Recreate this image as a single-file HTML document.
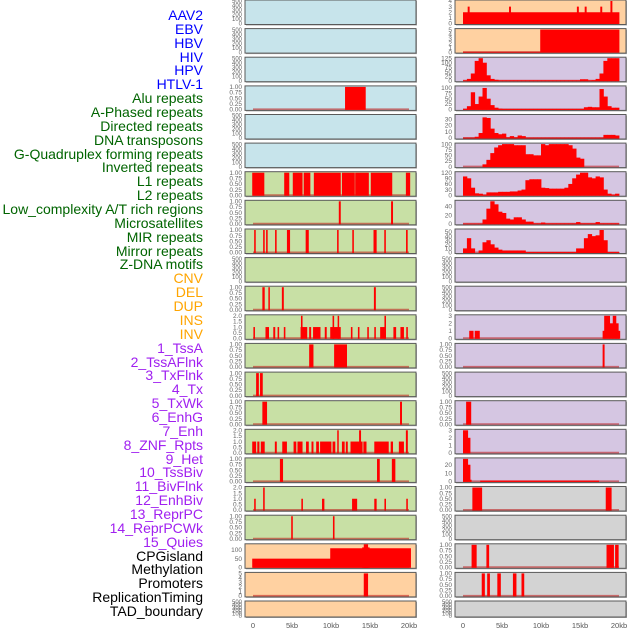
<!DOCTYPE html>
<html><head><meta charset="utf-8">
<style>
html,body{margin:0;padding:0;background:#fff;}
#wrap{position:relative;width:630px;height:630px;overflow:hidden;font-family:"Liberation Sans",sans-serif;}
.lbl{position:absolute;right:427px;font-size:14px;line-height:14px;white-space:nowrap;}
svg{position:absolute;left:0;top:0;}
</style></head>
<body>
<div id="wrap">
<div id="labels"></div>
<svg id="chart" width="630" height="630"></svg>
</div>
<script>
// ---------- label data ----------
const trackNames = ["AAV2","EBV","HBV","HIV","HPV","HTLV-1","Alu repeats","A-Phased repeats","Directed repeats","DNA transposons","G-Quadruplex forming repeats","Inverted repeats","L1 repeats","L2 repeats","Low_complexity A/T rich regions","Microsatellites","MIR repeats","Mirror repeats","Z-DNA motifs","CNV","DEL","DUP","INS","INV","1_TssA","2_TssAFlnk","3_TxFlnk","4_Tx","5_TxWk","6_EnhG","7_Enh","8_ZNF_Rpts","9_Het","10_TssBiv","11_BivFlnk","12_EnhBiv","13_ReprPC","14_ReprPCWk","15_Quies","CPGisland","Methylation","Promoters","ReplicationTiming","TAD_boundary"];
const trackGroups = ["v","v","v","v","v","v","r","r","r","r","r","r","r","r","r","r","r","r","r","s","s","s","s","s","c","c","c","c","c","c","c","c","c","c","c","c","c","c","c","o","o","o","o","o"];
const xTickLabels = ["0","5kb","10kb","15kb","20kb"];
const xTickValues = [0,5,10,15,20];

// ---------- series data (kb / values) ----------
const aav2Starts = [0,0.6,5.9,14.6,15.6,17.6,18.9];
const aav2Ends   = [20,0.8,6.1,14.8,15.8,17.8,19.1];
const aav2Values = [2,3,3,3,3,3,4];
const ebvStarts = [0,9.9]; const ebvEnds = [9.9,20]; const ebvValues = [0.05,5];
const hivBins = [2,10,40,110,125,100,30,10,5,2,2,2,2,2,2,2,2,2,2,2,2,2,2,2,2,2,2,2,2,2,8,8,2,3,10,40,110,125,125,125];
const aluBins = [2,15,80,25,60,100,50,20,8,3,2,2,2,2,2,2,2,2,2,2,2,2,2,2,2,2,2,2,2,2,2,10,12,10,10,95,60,15,8,8];
const directedBins = [0.5,0.5,0.5,2,8,33,32,15,8,6,7,1,3,1,4,3,0.5,0.5,0.5,0.5,0.5,0.5,0.5,0.5,0.5,0.5,0.5,0.5,0.5,0.5,0.5,0.5,0.5,0.5,0.5,0.5,5,5,5,4];
const gquadBins = [0,0,0,0,0,10,30,60,85,95,100,100,100,95,95,95,55,55,50,50,100,95,100,100,100,100,100,95,80,40,35,0,0,0,0,0,0,0,0,0];
const invertedBins = [100,90,40,10,8,3,15,15,15,18,18,18,20,20,25,30,80,85,85,85,40,38,35,35,35,35,40,60,90,110,120,120,95,90,100,95,30,8,3,8];
const l1ProfileBins = [0.5,0.5,0.5,0.5,0.5,10,35,52,45,28,25,12,10,15,15,10,5,5,1,1,3,1,1,1,1,1,1,1,1,4,1,1,1,1,4,1,1,1,1,1];
const l2ProfileBins = [10,35,10,0,5,25,30,20,12,7,5,5,5,5,5,5,1,1,1,1,1,1,1,1,1,1,1,1,1,10,10,35,45,40,42,55,30,1,1,1];
const insStarts = [0.8,1.5,17.9,18.1,18.8,19.2,19.6,19.9];
const insEnds   = [1.3,2.1,18.1,18.8,19.2,19.6,19.9,20.1];
const insValues = [1,1,1,3,2,3,2,1];
const invStarts = [17.9]; const invEnds = [18.1]; const invValues = [1];
const txStarts = [0.4]; const txEnds = [1.0]; const txValues = [1];
const txWkStarts = [0,0.6]; const txWkEnds = [0.6,0.9]; const txWkValues = [3,2];
const enhGStarts = [0,0.6,0.9,2.2]; const enhGEnds = [0.6,0.9,1.05,17.4]; const enhGValues = [27,20,2,1];
const enhStarts = [1.2,18.3]; const enhEnds = [2.4,19.0]; const enhValues = [1,1];
const quiesRStarts = [1.1,3.0,18.4,19.5]; const quiesREnds = [1.7,3.3,19.3,19.9]; const quiesRValues = [1,1,1,1];
const cpgRStarts = [2.4,3.1,4.4,6.4,7.5]; const cpgREnds = [2.75,3.4,4.8,6.8,7.8]; const cpgRValues = [1,1,1,1,1];

const aluLStarts = [11.8]; const aluLEnds = [14.4]; const aluLValues = [1];
const l1Starts = [-0.1,4.0,5.1,6.5,7.8,11.4,13.1,15.1,19.6];
const l1Ends   = [1.4,4.6,6.3,7.3,11.2,13.0,14.8,17.8,20.1];
const l1Values = [1,1,1,1,1,1,1,1,1];
const l2Starts = [11.0,17.7]; const l2Ends = [11.2,17.9]; const l2Values = [1,1];
const lowCStarts = [0.15,1.3,1.68,2.83,4.35,6.75,10.78,12.73,15.45,16.83,19.62];
const lowCEnds   = [0.3,1.45,1.83,2.98,4.7,7.1,10.93,12.88,15.8,16.98,19.78];
const lowCValues = [1,1,1,1,1,1,1,1,1,1,1];
const mirStarts = [1.2,1.97,3.7,15.5]; const mirEnds = [1.45,2.1,3.9,15.7]; const mirValues = [1,1,1,1];
const mirrorStarts = [0.05,1.6,2.6,3.15,3.95,6.1,6.15,7.2,7.7,9.2,9.9,10.2,10.85,12.55,13.45,14.65,15.55,16.3,16.85,18.0,18.9,19.65];
const mirrorEnds   = [0.2,2.0,2.8,3.3,4.1,6.9,6.3,7.4,8.6,9.4,11.2,10.35,10.98,12.7,13.6,14.8,15.7,16.9,17.0,18.3,19.3,19.8];
const mirrorValues = [1,1,1,1,1,1,2,1,1,1,1,2,2,1,1,1,1,1,2,1,1,1];
const cnvStarts = [7.2,10.4]; const cnvEnds = [7.7,12.0]; const cnvValues = [1,1];
const delStarts = [0.4,0.9]; const delEnds = [0.7,1.2]; const delValues = [1,1];
const dupStarts = [1.2,18.85]; const dupEnds = [1.75,19.05]; const dupValues = [1,1];
const ins2Starts = [-0.1,0.55,1.0,2.8,3.75,5.2,5.7,6.8,7.5,8.1,8.6,10.2,10.8,11.4,11.9,12.5,13.6,14.15,15.55,17.65,18.7,19.6];
const ins2Ends   = [0.35,0.77,1.45,3.0,4.3,5.5,6.3,7.1,7.7,8.4,10.0,10.5,10.92,11.7,12.1,14.0,13.8,14.5,17.35,17.9,19.3,19.8];
const ins2Values = [1,1,1,1,1,1,1,1,1,1,1,1,2,1,1,1,2,1,1,1,1,2];
const inv2Starts = [3.45,15.9,17.8]; const inv2Ends = [3.8,16.2,18.2]; const inv2Values = [1,1,1];
const tssaStarts = [0.15,1.3,6.2,8.85,12.7,15.55,16.85,19.65];
const tssaEnds   = [0.3,1.45,6.35,9.1,13.3,15.8,17.0,19.8];
const tssaValues = [1,2,1,1,1,1,1,1];
const tssaFStarts = [4.9,10.25]; const tssaFEnds = [5.05,10.4]; const tssaFValues = [1,1];
const methStarts = [-0.1,9.9,14.0,14.2]; const methEnds = [9.9,20.2,14.9,14.7]; const methValues = [50,110,115,135];
const promStarts = [14.2]; const promEnds = [14.7]; const promValues = [5];

// ---------- panel configuration ----------
const C = {blue:"#c7e4eb",green:"#c8e0a5",peach:"#ffd1a1",lav:"#d5c6e2",gray:"#d3d3d3"};
const T500 = ["0","100","200","300","400","500"];
const T1 = ["0.00","0.25","0.50","0.75","1.00"];
const T2 = ["0.0","0.5","1.0","1.5","2.0"];
function seg(s,e,v){return {s:s,e:e,v:v};}
function bins(b){return {s:b.map((_,i)=>i*0.5),e:b.map((_,i)=>i*0.5+0.5),v:b};}
const leftPanels = [
 [C.blue,null,500,T500],[C.blue,null,500,T500],[C.blue,null,500,T500],
 [C.blue,seg(aluLStarts,aluLEnds,aluLValues),1,T1],[C.blue,null,500,T500],[C.blue,null,500,T500],
 [C.green,seg(l1Starts,l1Ends,l1Values),1,T1],[C.green,seg(l2Starts,l2Ends,l2Values),1,T1],
 [C.green,seg(lowCStarts,lowCEnds,lowCValues),1,T1],[C.green,null,500,T500],
 [C.green,seg(mirStarts,mirEnds,mirValues),1,T1],[C.green,seg(mirrorStarts,mirrorEnds,mirrorValues),2,T2],
 [C.green,seg(cnvStarts,cnvEnds,cnvValues),1,T1],[C.green,seg(delStarts,delEnds,delValues),1,T1],
 [C.green,seg(dupStarts,dupEnds,dupValues),1,T1],[C.green,seg(ins2Starts,ins2Ends,ins2Values),2,T2],
 [C.green,seg(inv2Starts,inv2Ends,inv2Values),1,T1],[C.green,seg(tssaStarts,tssaEnds,tssaValues),2,T2],
 [C.green,seg(tssaFStarts,tssaFEnds,tssaFValues),1,T1],
 [C.peach,seg(methStarts,methEnds,methValues),130,["0","50","100"]],
 [C.peach,seg(promStarts,promEnds,promValues),5,["0","1","2","3","4","5"]],
 [C.peach,null,500,T500]
];
const rightPanels = [
 [C.peach,seg(aav2Starts,aav2Ends,aav2Values),4,["0","1","2","3","4"]],
 [C.peach,seg(ebvStarts,ebvEnds,ebvValues),5,["0","1","2","3","4","5"]],
 [C.lav,bins(hivBins),125,["0","25","50","75","100","125"]],
 [C.lav,bins(aluBins),105,["0","25","50","75","100"]],
 [C.lav,bins(directedBins),36,["0","10","20","30"]],
 [C.lav,bins(gquadBins),100,["0","25","50","75","100"]],
 [C.lav,bins(invertedBins),120,["0","30","60","90","120"]],
 [C.lav,bins(l1ProfileBins),52,["0","20","40"]],
 [C.lav,bins(l2ProfileBins),55,["0","10","20","30","40","50"]],
 [C.lav,null,500,T500],[C.lav,null,500,T500],
 [C.lav,seg(insStarts,insEnds,insValues),3,["0","1","2","3"]],
 [C.lav,seg(invStarts,invEnds,invValues),1,T1],[C.lav,null,500,T500],
 [C.lav,seg(txStarts,txEnds,txValues),1,T1],
 [C.lav,seg(txWkStarts,txWkEnds,txWkValues),3,["0","1","2","3"]],
 [C.lav,seg(enhGStarts,enhGEnds,enhGValues),27,["0","10","20"]],
 [C.gray,seg(enhStarts,enhEnds,enhValues),1,T1],[C.gray,null,500,T500],
 [C.gray,seg(quiesRStarts,quiesREnds,quiesRValues),1,T1],
 [C.gray,seg(cpgRStarts,cpgREnds,cpgRValues),1,T1],[C.gray,null,500,T500]
];

// ---------- rendering ----------
const NS="http://www.w3.org/2000/svg";
const svg=document.getElementById("chart");
function mk(tag,attrs,parent){const el=document.createElementNS(NS,tag);for(const k in attrs)el.setAttribute(k,attrs[k]);(parent||svg).appendChild(el);return el;}
const KBPX=7.8;
const COLS=[{x:245,w:171,x0:253,side:"left",panels:leftPanels},{x:455,w:171,x0:463,side:"right",panels:rightPanels}];
function rowTop(i){return i===21?601:Math.round(i*28.62*10)/10;}
function rowH(i){return i===21?16:24.5;}

COLS.forEach(col=>{
  const xs=kb=>col.x0+kb*KBPX;
  col.panels.forEach((p,i)=>{
    const top=rowTop(i),h=rowH(i),bot=top+h;
    const g=mk("g",{});
    
    
    mk("rect",{x:col.x+1,y:top+1,width:col.w,height:h,fill:"#aaa"},g);
    mk("rect",{x:col.x,y:top,width:col.w,height:h,fill:p[0],stroke:"#5a5a5a","stroke-width":1},g);
    const ymax=p[2];
    const ys=v=>bot-1-(v/ymax)*(h-2);
    const ticks=p[3];
    ticks.forEach((t,k)=>{
      const val=ymax===500?k*100:parseFloat(t);
      const tx=mk("text",{x:col.x-3,y:ys(val)+2.2,"font-size":(ymax===500||i===21)?6:6.5,fill:"#666","text-anchor":"end","font-family":"Liberation Sans, sans-serif"},g);
      tx.textContent=t;
      
      
    });
    if(p[1]){
      const d=p[1];
      mk("line",{x1:xs(0),x2:xs(20),y1:bot-1.2,y2:bot-1.2,stroke:"rgba(190,20,20,0.55)","stroke-width":1.6},g);
      for(let k=0;k<d.v.length;k++){
        if(d.v[k]<=0)continue;
        let x1=xs(d.s[k]),x2=xs(d.e[k])+0.4;
        if(x2-x1<1.5)x2=x1+1.5;
        const y1=Math.max(top+0.5,ys(d.v[k]));
        const r=mk("rect",{x:x1,y:y1,width:x2-x1,height:bot-0.5-y1,fill:"#ff0000"},g);
        
        
      }
    }
  });
  xTickValues.forEach((v,k)=>{
    const t=mk("text",{x:xs(v),y:628,"font-size":7.5,fill:"#555","text-anchor":"middle","font-family":"Liberation Sans, sans-serif"});
    t.textContent=xTickLabels[k];
    
    
  });
});

// labels
const LC={v:"#0000ff",r:"#006400",s:"#ffa500",c:"#a020f0",o:"#000000"};
const lab=document.getElementById("labels");
trackNames.forEach((n,i)=>{
  const d=document.createElement("div");
  d.className="lbl";
  d.style.top=(15+i*13.86-7)+"px";
  d.style.color=LC[trackGroups[i]];
  d.textContent=n;
  
  
  lab.appendChild(d);
});
</script>
</body></html>
